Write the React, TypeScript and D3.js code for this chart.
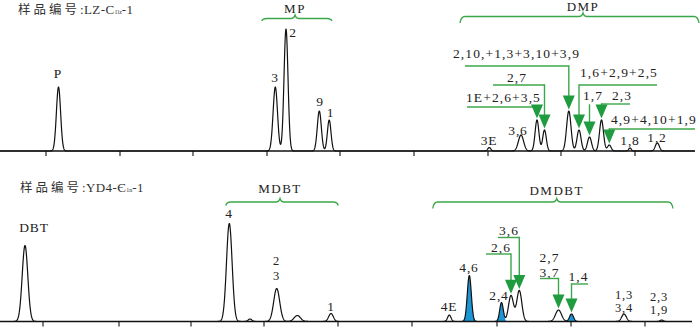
import React from 'react';
import * as d3 from 'd3';

const W = 700;
const H = 328;

// 上图：样品 LZ-C1lz-1，甲基菲 / 二甲基菲
const topNames = ['P', '3', '2', '9', '1', '3E', '3,6', '1E+2,6+3,5', '2,7', '2,10,+1,3+3,10+3,9', '1,6+2,9+2,5', '1,7', '2,3', '4,9+4,10+1,9', '1,8', '1,2'];
const topRT = [58.5, 275.3, 286, 319.3, 329.2, 489.3, 521, 537, 544.5, 568.8, 579, 589.5, 601.5, 609.3, 630, 657.3];
const topHeight = [64, 64, 122, 40, 31, 3.5, 16, 31, 21, 40, 21, 14, 31, 6, 3, 8];
const topWidth = [2.1, 2.2, 2.0, 2.0, 1.8, 1.5, 2.6, 1.9, 1.8, 2.2, 2.0, 2.0, 2.0, 1.8, 1.3, 2.0];
const topTicks = [46, 120, 193, 267, 340, 414, 488, 561, 635];

// 下图：样品 YD4-Є1n-1，甲基二苯并噻吩 / 二甲基二苯并噻吩
const botNames = ['DBT', '4', 'm-a', '2/3', 'm-b', '1', '4E', '4,6', '2,4', '2,6', '3,6', '2,7/3,7', '1,4', '1,3/3,4', '2,3/1,9'];
const botRT = [25, 229.3, 250, 276.7, 297.3, 331, 449.3, 469.3, 501.5, 511, 519.3, 558.5, 571.5, 624, 661.7];
const botHeight = [76, 98, 2.5, 33, 6, 8, 6.5, 46, 19, 26, 31, 11.5, 7.5, 7.5, 1.5];
const botWidth = [2.8, 2.8, 1.8, 3.0, 3.2, 2.3, 1.7, 2.0, 1.8, 2.5, 2.5, 3.0, 2.0, 2.3, 1.5];
const botFilled = ['4,6', '2,4', '1,4'];
const botTicks = [43, 119, 191, 264, 338, 412, 497, 571, 645];

const GREEN = '#3ca74a';
const ARROW = '#1f9c3f';
const BLUE = '#1b95d3';
const SERIF = "'Liberation Serif', 'DejaVu Serif', serif";
const CJK = "'Noto Sans CJK SC', sans-serif";

const x = d3.scaleLinear().domain([0, 700]).range([0, W]);
const yTop = d3.scaleLinear().domain([0, 130]).range([151, 21]);
const yBot = d3.scaleLinear().domain([0, 130]).range([321.5, 191.5]);

function signal(t: number, rts: number[], hs: number[], ws: number[]) {
  return d3.sum(rts, (r, i) => hs[i] * Math.exp(-((t - r) ** 2) / (2 * ws[i] ** 2)));
}

function bracket(x0: number, x1: number, xm: number, y: number, drop: number) {
  return `M${x0},${y + drop} Q${x0 + 1},${y} ${x0 + 5},${y} L${xm - 4},${y} Q${xm - 1},${y} ${xm},${y - 3.5} Q${xm + 1},${y} ${xm + 4},${y} L${x1 - 5},${y} Q${x1 - 1},${y} ${x1},${y + drop}`;
}

// 标注（文字位置为版式）
const topLabels = [
  { t: ['P'], x: 58, y: [78] },
  { t: ['3'], x: 275, y: [82] },
  { t: ['2'], x: 293, y: [37] },
  { t: ['9'], x: 320, y: [106] },
  { t: ['1'], x: 330.5, y: [117] },
  { t: ['3E'], x: 489, y: [145] },
  { t: ['3,6'], x: 518, y: [134.5] },
  { t: ['1,8'], x: 630, y: [144.5] },
  { t: ['1,2'], x: 657, y: [141.5] },
];
const botLabels = [
  { t: ['DBT'], x: 34, y: [232] },
  { t: ['4'], x: 229, y: [218] },
  { t: ['2', '3'], x: 276.5, y: [265, 280] },
  { t: ['1'], x: 331, y: [311] },
  { t: ['4E'], x: 449, y: [311] },
  { t: ['4,6'], x: 469, y: [272] },
  { t: ['2,4'], x: 499, y: [300] },
  { t: ['1,3', '3,4'], x: 624, y: [299, 312] },
  { t: ['2,3', '1,9'], x: 659, y: [301, 314] },
];

const topArrows = [
  { peak: '2,10,+1,3+3,10+3,9', t: ['2,10,+1,3+3,10+3,9'], tx: 453, ty: [58], anchor: 'start', h0: 465, hy: 66 },
  { peak: '2,7', t: ['2,7'], tx: 517, ty: [82], anchor: 'middle', h0: 493, hy: 85 },
  { peak: '1E+2,6+3,5', t: ['1E+2,6+3,5'], tx: 466, ty: [102], anchor: 'start', h0: 467, hy: 107 },
  { peak: '1,6+2,9+2,5', t: ['1,6+2,9+2,5'], tx: 580, ty: [77], anchor: 'start', h1: 657, hy: 85 },
  { peak: '1,7', t: ['1,7'], tx: 583, ty: [100], anchor: 'start', hy: 105 },
  { peak: '2,3', t: ['2,3'], tx: 612, ty: [100], anchor: 'start', h1: 630, hy: 104 },
  { peak: '4,9+4,10+1,9', t: ['4,9+4,10+1,9'], tx: 611, ty: [124], anchor: 'start', h1: 695, hy: 129 },
];
const botArrows = [
  { peak: '3,6', t: ['3,6'], tx: 509, ty: [235], anchor: 'middle', h0: 498, hy: 237.5 },
  { peak: '2,6', t: ['2,6'], tx: 501, ty: [252], anchor: 'middle', h0: 486, hy: 254 },
  { peak: '2,7/3,7', t: ['2,7', '3,7'], tx: 549.5, ty: [262, 277], anchor: 'middle', h0: 540, hy: 278.5 },
  { peak: '1,4', t: ['1,4'], tx: 578.5, ty: [281], anchor: 'middle', h1: 588, hy: 284 },
];

function Trace({ names, rts, hs, ws, y, end, ticks, filled, labels, arrows }: any) {
  const base = y(0);
  const ts = d3.range(0, end, 0.25);
  const line = d3.line<number>().x((t) => x(t)).y((t) => y(signal(t, rts, hs, ws)));
  const fills = (filled || []).map((n: string) => {
    const i = names.indexOf(n);
    const pts = d3.range(rts[i] - 3.5 * ws[i], rts[i] + 3.5 * ws[i], 0.2);
    const area = d3.area<number>()
      .x((t) => x(t))
      .y0(base)
      .y1((t) => y(hs[i] * Math.exp(-((t - rts[i]) ** 2) / (2 * ws[i] ** 2))));
    return <path key={n} d={area(pts) || ''} fill={BLUE} />;
  });
  return (
    <g>
      {fills}
      <line x1={x(0)} x2={x(end)} y1={base} y2={base} stroke="#111" strokeWidth={1.3} />
      {ticks.map((t: number) => (
        <line key={t} x1={x(t)} x2={x(t)} y1={base} y2={base + 5} stroke="#111" strokeWidth={1.1} />
      ))}
      <path d={line(ts) || ''} fill="none" stroke="#111" strokeWidth={1.2} strokeLinejoin="round" />
      {labels.map((l: any, i: number) =>
        l.t.map((s: string, j: number) => (
          <text key={i + '-' + j} x={l.x} y={l.y[j]} textAnchor="middle" fontSize={l.t.length > 1 ? 12.5 : 13.5}
            letterSpacing={0.8} fill="#222" style={{ fontFamily: SERIF }}>{s}</text>
        ))
      )}
      {arrows.map((a: any, i: number) => {
        const k = names.indexOf(a.peak);
        const ax = x(rts[k]);
        const tip = y(signal(rts[k], rts, hs, ws)) - 1.5;
        const hx0 = a.h0 !== undefined ? x(a.h0) : ax;
        const hx1 = a.h1 !== undefined ? x(a.h1) : ax;
        return (
          <g key={'a' + i}>
            {a.t.map((s: string, j: number) => (
              <text key={j} x={a.tx} y={a.ty[j]} textAnchor={a.anchor} fontSize={13.5} letterSpacing={1.1}
                fill="#222" style={{ fontFamily: SERIF }}>{s}</text>
            ))}
            {hx0 !== hx1 && <line x1={hx0} x2={hx1} y1={a.hy} y2={a.hy} stroke={GREEN} strokeWidth={1.4} />}
            <line x1={ax} x2={ax} y1={a.hy - 0.7} y2={tip - 13} stroke={GREEN} strokeWidth={1.4} />
            <path d={`M${ax - 6},${tip - 14} L${ax + 6},${tip - 14} L${ax},${tip} Z`} fill={ARROW} />
          </g>
        );
      })}
    </g>
  );
}

function GroupLabel({ x0, x1, xm, y, drop, ty, text }: any) {
  return (
    <g>
      <path d={bracket(x(x0), x(x1), x(xm), y, drop)} fill="none" stroke={GREEN} strokeWidth={1.3} />
      <text x={x(xm)} y={ty} textAnchor="middle" fontSize={13} letterSpacing={1.5} fill="#222"
        style={{ fontFamily: SERIF }}>{text}</text>
    </g>
  );
}

export default function App() {
  return (
    <svg width={W} height={H} style={{ position: 'absolute', left: 0, top: 0, background: '#fff' }}>
      {/* 样品标签 */}
      <text x={18} y={14} fontSize={13} fill="#333" style={{ fontFamily: SERIF }}>
        <tspan letterSpacing={3} style={{ fontFamily: CJK }} fontSize={12.5}>样品编号</tspan>
        <tspan letterSpacing={0.4}>:LZ-C</tspan>
        <tspan fontSize={6}>1lz</tspan>
        <tspan letterSpacing={0.4}>-1</tspan>
      </text>
      <text x={20} y={192} fontSize={13} fill="#333" style={{ fontFamily: SERIF }}>
        <tspan letterSpacing={3} style={{ fontFamily: CJK }} fontSize={12.5}>样品编号</tspan>
        <tspan letterSpacing={0.4}>:YD4-Є</tspan>
        <tspan fontSize={6}>1n</tspan>
        <tspan letterSpacing={0.4}>-1</tspan>
      </text>

      {/* 分组括号 */}
      <GroupLabel x0={261.7} x1={332} xm={295} y={18.5} drop={2.5} ty={13} text="MP" />
      <GroupLabel x0={460} x1={699} xm={583} y={16.5} drop={6.5} ty={11} text="DMP" />
      <GroupLabel x0={225.7} x1={338.3} xm={280} y={202} drop={3.5} ty={193} text="MDBT" />
      <GroupLabel x0={432.7} x1={673} xm={556.7} y={202} drop={6.5} ty={195} text="DMDBT" />

      <Trace names={topNames} rts={topRT} hs={topHeight} ws={topWidth} y={yTop} end={695}
        ticks={topTicks} labels={topLabels} arrows={topArrows} />
      <Trace names={botNames} rts={botRT} hs={botHeight} ws={botWidth} y={yBot} end={692}
        ticks={botTicks} filled={botFilled} labels={botLabels} arrows={botArrows} />
    </svg>
  );
}
